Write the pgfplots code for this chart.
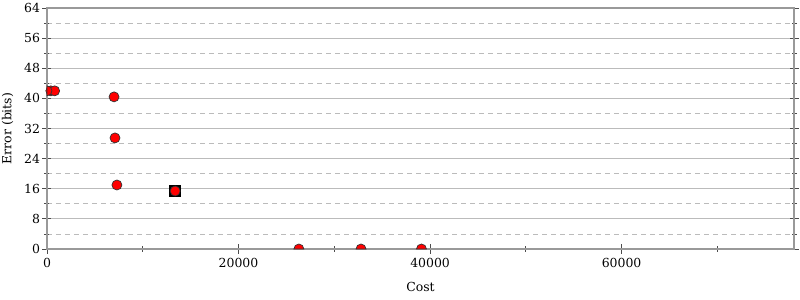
\documentclass[border=0pt]{standalone}
\usepackage{pgfplots}
\pgfplotsset{compat=1.18}
\usepackage{fontspec}
\setmainfont{DejaVu Serif}
\definecolor{axgray}{HTML}{999999}
\definecolor{gridgray}{HTML}{BBBBBB}
\pgfdeclareplotmark{uphalf}{%
  \pgfpathmoveto{\pgfqpoint{\pgfplotmarksize}{0pt}}%
  \pgfpatharc{0}{180}{\pgfplotmarksize}%
  \pgfpathclose\pgfusepathqfillstroke}
\pgfdeclareplotmark{righthalf}{%
  \pgfpathmoveto{\pgfqpoint{0pt}{-\pgfplotmarksize}}%
  \pgfpatharc{-90}{90}{\pgfplotmarksize}%
  \pgfpathclose\pgfusepathqfillstroke}
\begin{document}
\begin{tikzpicture}
\useasboundingbox (-47bp,-51bp) rectangle (753bp,249bp);
\begin{axis}[
  at={(0,0)}, anchor=south west,
  width=747bp, height=241bp, scale only axis,
  xmin=0, xmax=78000, ymin=0, ymax=64,
  font=\fontsize{12.5}{13}\selectfont,
  /pgf/number format/assume math mode=true,
  /pgf/number format/set thousands separator={},
  scaled x ticks=false,
  xtick={0,20000,40000,60000},
  minor xtick={10000,30000,50000,70000},
  ytick={0,8,...,64},
  minor ytick={4,12,...,60},
  ymajorgrids, yminorgrids,
  major grid style={gridgray, line width=0.8pt},
  minor grid style={gridgray, dash pattern=on 5bp off 4bp, line width=0.8pt},
  axis line style={axgray, line width=1.2pt},
  tick align=center,
  major tick length=9bp, minor tick length=5bp,
  every tick/.style={black!70, line width=0.8pt},
  xtick pos=bottom,
  ytick pos=both,
  xticklabel style={yshift=-1bp},
  yticklabel style={xshift=1bp},
  xlabel={Cost}, ylabel={Error (bits)},
  xlabel style={yshift=-8bp},
  ylabel style={yshift=4bp},
  axis on top,
]
\addplot[only marks, mark=square*, mark size=5.5bp, mark options={fill=black, draw=black}] coordinates {(13380,15.4)};
\addplot[only marks, mark=*, mark size=5bp, mark options={fill=red, draw=black!80, line width=0.7pt}] coordinates {
(400,42) (800,42)
(7000,40.4) (7100,29.5) (7300,17.0) (13380,15.4)
};
\addplot[only marks, mark=righthalf, mark size=5bp, mark options={fill=red, draw=black!80, line width=0.7pt}] coordinates {
(0,42)
};
\addplot[only marks, mark=uphalf, mark size=5bp, mark options={fill=red, draw=black!80, line width=0.7pt}] coordinates {
(26300,0) (32790,0) (39100,0)
};
\end{axis}
\end{tikzpicture}
\end{document}
